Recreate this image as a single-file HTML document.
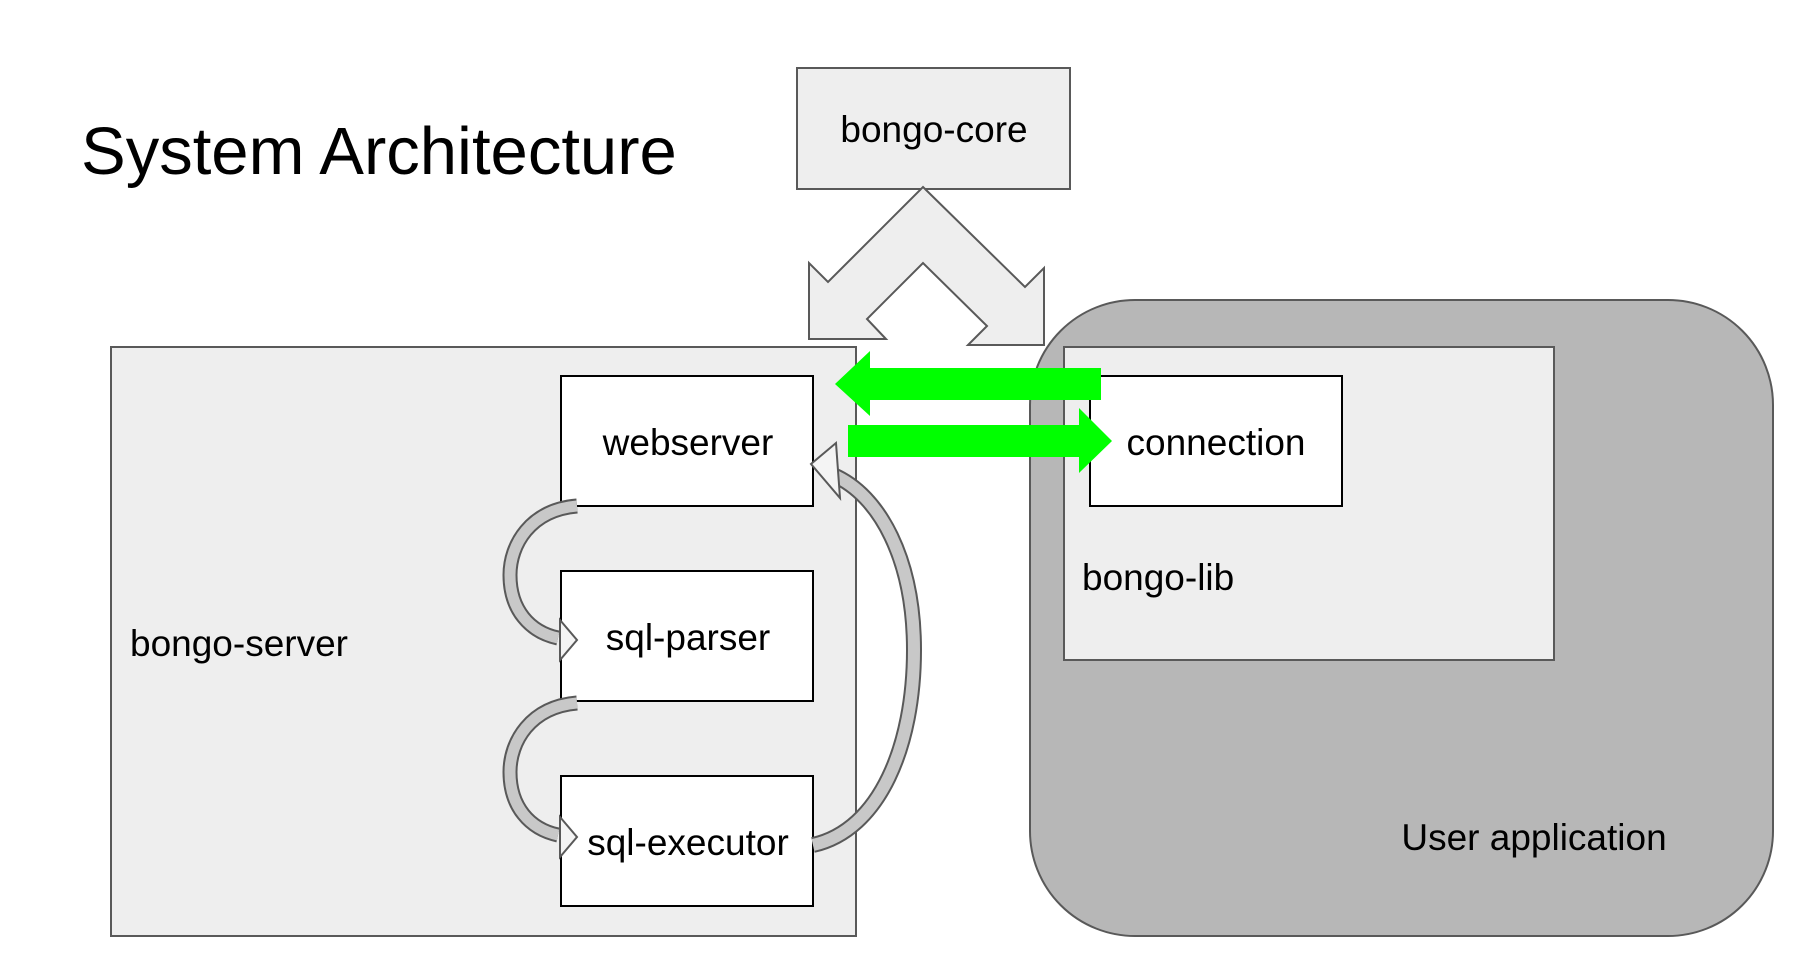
<!DOCTYPE html>
<html><head><meta charset="utf-8"><style>
html,body{margin:0;padding:0;background:#fff;}
svg{display:block;}
text{font-family:"Liberation Sans",Arial,sans-serif;fill:#000;}
</style></head><body>
<svg width="1810" height="956" viewBox="0 0 1810 956" xmlns="http://www.w3.org/2000/svg">
<text x="81" y="174" font-size="67">System Architecture</text>
<rect x="797" y="68" width="273" height="121" fill="#eeeeee" stroke="#595959" stroke-width="2"/>
<text x="934" y="142" font-size="37" text-anchor="middle">bongo-core</text>
<rect x="1030" y="300" width="743" height="636" rx="105" ry="105" fill="#b7b7b7" stroke="#595959" stroke-width="2"/>
<text x="1534" y="850" font-size="37" text-anchor="middle">User application</text>
<rect x="111" y="347" width="745" height="589" fill="#eeeeee" stroke="#595959" stroke-width="2"/>
<text x="130" y="656" font-size="37">bongo-server</text>
<polygon points="923,187 1025,287 1044,268 1044,345 968,345 987,326 923,263 867,319 886,339 809,339 809,263 828,282" fill="#eeeeee" stroke="#595959" stroke-width="2"/>
<rect x="1064" y="347" width="490" height="313" fill="#eeeeee" stroke="#595959" stroke-width="2"/>
<text x="1082" y="590" font-size="37">bongo-lib</text>
<rect x="1090" y="376" width="252" height="130" fill="#fff" stroke="#000" stroke-width="2"/>
<text x="1216" y="455" font-size="37" text-anchor="middle">connection</text>
<rect x="561" y="376" width="252" height="130" fill="#fff" stroke="#000" stroke-width="2"/>
<text x="688" y="455" font-size="37" text-anchor="middle">webserver</text>
<rect x="561" y="571" width="252" height="130" fill="#fff" stroke="#000" stroke-width="2"/>
<text x="688" y="650" font-size="37" text-anchor="middle">sql-parser</text>
<rect x="561" y="776" width="252" height="130" fill="#fff" stroke="#000" stroke-width="2"/>
<text x="688" y="855" font-size="37" text-anchor="middle">sql-executor</text>
<g fill="none">
<path d="M577,506 C530,510 510,545 510,575 C510,610 530,632 558,638" stroke="#595959" stroke-width="15"/>
<path d="M577,506 C530,510 510,545 510,575 C510,610 530,632 558,638" stroke="#c8c8c8" stroke-width="11"/>
<path d="M577,703 C530,707 510,742 510,772 C510,807 530,829 558,835" stroke="#595959" stroke-width="15"/>
<path d="M577,703 C530,707 510,742 510,772 C510,807 530,829 558,835" stroke="#c8c8c8" stroke-width="11"/>
<path d="M813,845 C880,830 914,745 914,650 C914,560 880,495 833,475" stroke="#595959" stroke-width="16"/>
<path d="M813,845 C880,830 914,745 914,650 C914,560 880,495 833,475" stroke="#c8c8c8" stroke-width="12"/>
</g>
<polygon points="560,620 577,640 560,660" fill="#f4f4f4" stroke="#595959" stroke-width="2"/>
<polygon points="560,817 577,837 560,857" fill="#f4f4f4" stroke="#595959" stroke-width="2"/>
<polygon points="811,464 836,443 840,498" fill="#f4f4f4" stroke="#595959" stroke-width="2"/>
<polygon points="1101,368 870,368 870,351 835,384 870,416 870,400 1101,400" fill="#00ff00"/>
<polygon points="848,425 1079,425 1079,408 1112,441 1079,473 1079,457 848,457" fill="#00ff00"/>
</svg>
</body></html>
